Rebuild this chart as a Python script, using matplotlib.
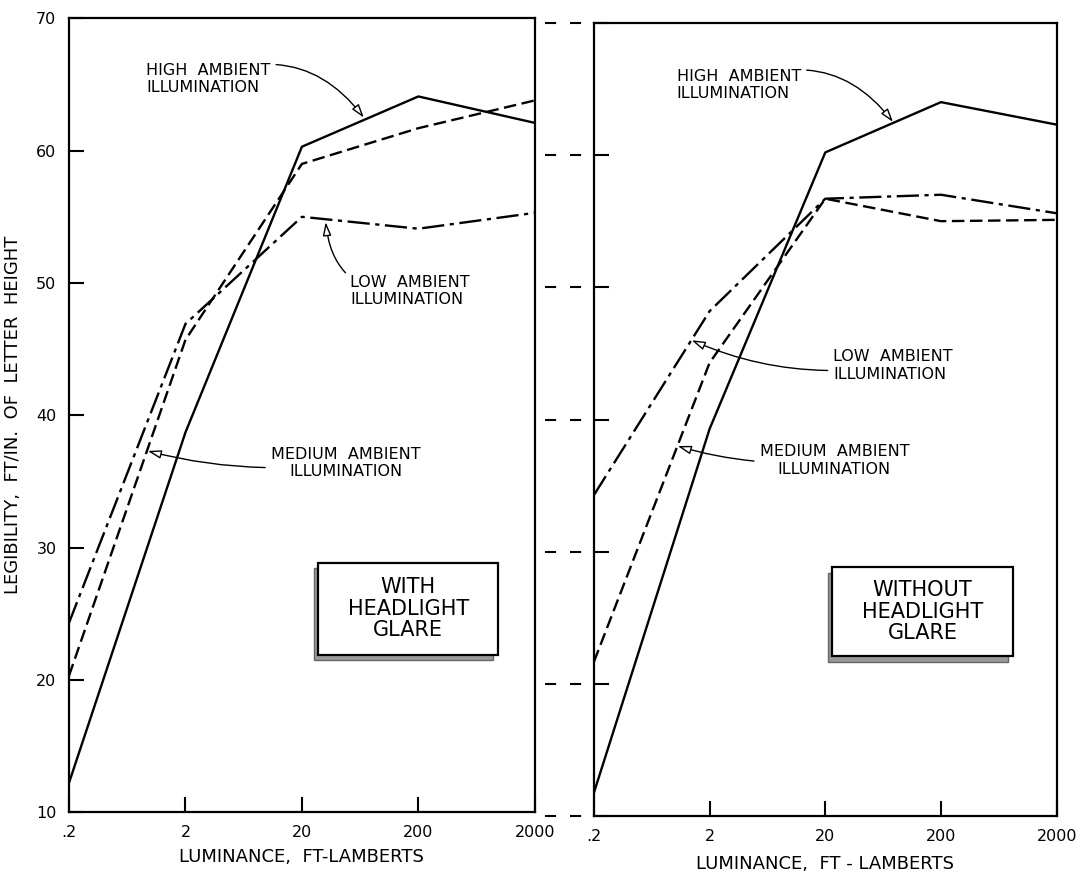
import matplotlib
matplotlib.use('Agg')
import matplotlib.pyplot as plt
from matplotlib.patches import Rectangle
from matplotlib.ticker import NullLocator
import matplotlib.transforms as mtransforms

plt.rcParams['font.family'] = 'DejaVu Sans'
plt.rcParams['lines.scale_dashes'] = False

# luminance, ft-lamberts
lum = [0.2, 2, 20, 200, 2000]
lum_labels = ['.2', '2', '20', '200', '2000']
leg_ticks = [10, 20, 30, 40, 50, 60, 70]

# legibility, ft/in. of letter height
glare_high = [12.2, 38.7, 60.3, 64.1, 62.1]
glare_medium = [20.3, 45.7, 59.0, 61.7, 63.8]
glare_low = [24.3, 46.9, 55.0, 54.1, 55.3]

noglare_high = [11.8, 39.3, 60.2, 64.0, 62.3]
noglare_medium = [21.7, 44.3, 56.7, 55.0, 55.1]
noglare_low = [34.3, 48.2, 56.7, 57.0, 55.6]

solid = '-'
dashed = (0, (9, 4))
dashdot = (0, (16, 4, 3, 4))

fig = plt.figure(figsize=(10.76, 8.76), dpi=100)
ax1 = fig.add_axes([0.0641, 0.073, 0.433, 0.906])
ax2 = fig.add_axes([0.552, 0.068, 0.430, 0.906])


def setup(ax, labels):
    ax.set_xscale('log')
    ax.set_xlim(0.2, 2000)
    ax.set_ylim(10, 70)
    ax.set_xticks(lum)
    ax.xaxis.set_minor_locator(NullLocator())
    ax.set_yticks(leg_ticks)
    for s in ax.spines.values():
        s.set_linewidth(1.6)
    ax.tick_params(direction='in', length=11, width=1.5, pad=9, labelsize=11.5)
    ax.set_xticklabels(lum_labels)
    if labels:
        ax.set_yticklabels([str(v) for v in leg_ticks])
    else:
        ax.set_yticklabels([])


setup(ax1, True)
setup(ax2, False)

lw = 1.7
ax1.plot(lum, glare_high, color='black', lw=lw, linestyle=solid)
ax1.plot(lum, glare_medium, color='black', lw=lw, linestyle=dashed)
ax1.plot(lum, glare_low, color='black', lw=lw, linestyle=dashdot)

ax2.plot(lum, noglare_high, color='black', lw=lw, linestyle=solid)
ax2.plot(lum, noglare_medium, color='black', lw=lw, linestyle=dashed)
ax2.plot(lum, noglare_low, color='black', lw=lw, linestyle=dashdot)

ax1.set_ylabel('LEGIBILITY,  FT/IN.  OF  LETTER  HEIGHT', fontsize=13, labelpad=10)
ax1.set_xlabel('LUMINANCE,  FT-LAMBERTS', fontsize=13, labelpad=6)
ax2.set_xlabel('LUMINANCE,  FT - LAMBERTS', fontsize=13, labelpad=8)

# dashed connectors between the two panels
trans = mtransforms.blended_transform_factory(ax2.transAxes, ax2.transData)
for v in leg_ticks:
    ax2.plot([-0.106, -0.004], [v, v], transform=trans, color='black', lw=1.5,
             linestyle=(0, (8, 10)), clip_on=False)

tfont = dict(fontsize=11.5)
aprops = dict(arrowstyle='-|>,head_length=0.7,head_width=0.22', fc='white',
              ec='black', lw=1.0, shrinkA=2, shrinkB=0)

# left panel annotations
ax1.annotate('HIGH  AMBIENT\nILLUMINATION', xy=(68, 62.5), xytext=(0.92, 65.4),
             va='center', ha='left', **tfont,
             arrowprops=dict(connectionstyle='arc3,rad=-0.4', **aprops))
ax1.annotate('LOW  AMBIENT\nILLUMINATION', xy=(32, 54.6), xytext=(52, 49.4),
             va='center', ha='left', **tfont,
             arrowprops=dict(connectionstyle='arc3,rad=-0.5', **aprops))
ax1.annotate('MEDIUM  AMBIENT\nILLUMINATION', xy=(0.95, 37.3), xytext=(10.8, 36.4),
             va='center', ha='left', multialignment='center', **tfont,
             arrowprops=dict(connectionstyle='arc3,rad=-0.1', **aprops))

# right panel annotations
ax2.annotate('HIGH  AMBIENT\nILLUMINATION', xy=(77, 62.5), xytext=(1.04, 65.3),
             va='center', ha='left', **tfont,
             arrowprops=dict(connectionstyle='arc3,rad=-0.4', **aprops))
ax2.annotate('LOW  AMBIENT\nILLUMINATION', xy=(1.4, 46.0), xytext=(23.4, 44.1),
             va='center', ha='left', **tfont,
             arrowprops=dict(connectionstyle='arc3,rad=-0.15', **aprops))
ax2.annotate('MEDIUM  AMBIENT\nILLUMINATION', xy=(1.06, 38.0), xytext=(5.4, 36.9),
             va='center', ha='left', multialignment='center', **tfont,
             arrowprops=dict(connectionstyle='arc3,rad=-0.1', **aprops))


def shadow_box(ax, x0, y0, w, h, text):
    dx, dy = 0.010, 0.007
    ax.add_patch(Rectangle((x0 - dx, y0 - dy), w, h, transform=ax.transAxes,
                           facecolor='#999999', edgecolor='#666666', lw=1.0,
                           zorder=4))
    ax.add_patch(Rectangle((x0, y0), w, h, transform=ax.transAxes,
                           facecolor='white', edgecolor='black', lw=1.6,
                           zorder=5))
    ax.text(x0 + w / 2, y0 + h / 2, text, transform=ax.transAxes, ha='center',
            va='center', fontsize=15, linespacing=1.1, zorder=6)


shadow_box(ax1, 0.535, 0.198, 0.386, 0.116, 'WITH\nHEADLIGHT\nGLARE')
shadow_box(ax2, 0.515, 0.202, 0.390, 0.112, 'WITHOUT\nHEADLIGHT\nGLARE')

fig.savefig('out.png', dpi=100, facecolor='white')
